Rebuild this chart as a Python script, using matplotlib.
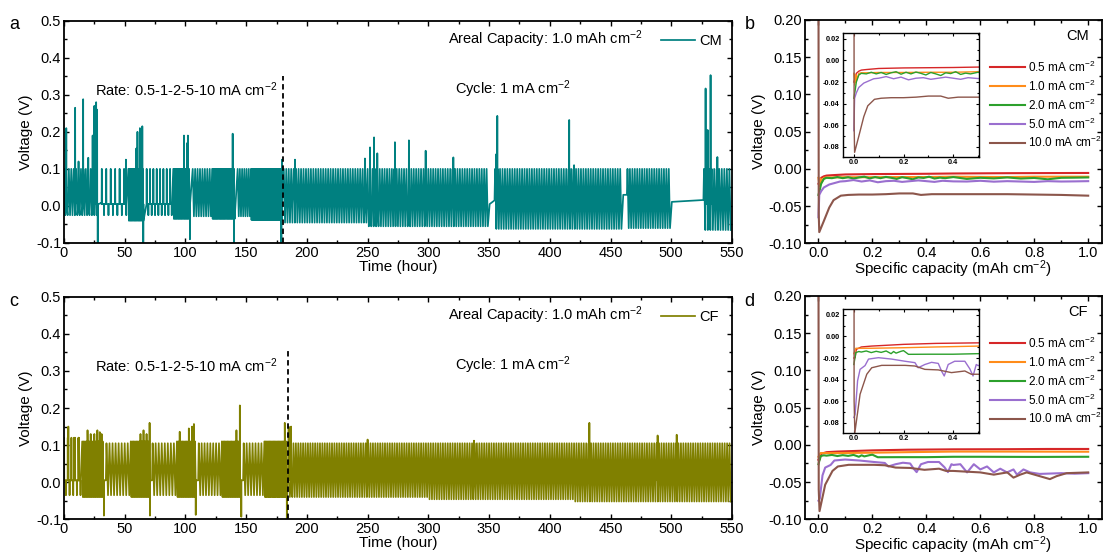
import numpy as np
import matplotlib
matplotlib.use('Agg')
import matplotlib.pyplot as plt
from matplotlib.ticker import MultipleLocator, FormatStrFormatter

plt.rcParams['font.family'] = ['Liberation Sans', 'DejaVu Sans']
plt.rcParams['mathtext.fontset'] = 'custom'
plt.rcParams['mathtext.rm'] = 'Liberation Sans'
plt.rcParams['mathtext.it'] = 'Liberation Sans:italic'
plt.rcParams['axes.unicode_minus'] = False

# --- time traces: (start h, end h, cycles, upper V, lower V) per block ---
cm_blocks = [
    (0, 28, 14, 0.10, -0.025), (31, 53, 6, 0.10, -0.025), (53, 66, 12, 0.10, -0.04),
    (68, 90, 8, 0.10, -0.025), (90, 104, 14, 0.10, -0.035),
    (106, 122, 8, 0.10, -0.028), (122, 141, 20, 0.10, -0.035),
    (143, 154, 6, 0.10, -0.028), (154, 180, 30, 0.10, -0.038),
    (181, 250, 34, 0.10, -0.045), (250, 350, 50, 0.10, -0.055),
    (355, 460, 52, 0.10, -0.062), (464, 500, 18, 0.10, -0.06),
    (527, 550, 11, 0.10, -0.065),
]
cm_flats = [(28.5, 30.5, 0.005, 0.008), (350.5, 354.5, 0.005, 0.015),
            (460.5, 463.5, 0.03, 0.03), (500.5, 526.5, 0.011, 0.016)]
cm_spikes = [(1.9, 0.21), (9.2, 0.265), (12, 0.12), (15.8, 0.288), (20, 0.13),
             (23.6, 0.19), (25, 0.27), (26.5, 0.28), (27.3, 0.26), (27.8, -0.1),
             (51, 0.125), (59.5, 0.155), (60.5, 0.2), (62.5, 0.21), (64.5, 0.215),
             (65.3, -0.1), (98.8, 0.19), (101.5, 0.17), (102, 0.19), (103.7, -0.09),
             (138.9, 0.195), (140, -0.098), (179, -0.1), (179.5, 0.125),
             (190.2, 0.125), (247.8, 0.128), (252, 0.158), (255.3, 0.185),
             (258, 0.142), (272.5, 0.172), (284, 0.177), (297.8, 0.149),
             (320.6, 0.131), (356, 0.14), (356.8, 0.243), (416, 0.232),
             (420, 0.11), (528.3, 0.317), (530, 0.205), (532.4, 0.353), (538, 0.132)]

cf_blocks = [
    (0, 15, 5, 0.12, -0.035), (15, 33, 16, 0.11, -0.04),
    (35, 55, 8, 0.105, -0.035), (55, 71, 14, 0.11, -0.04),
    (73, 93, 8, 0.105, -0.035), (93, 109, 14, 0.11, -0.04),
    (111, 130, 8, 0.105, -0.035), (130, 146, 14, 0.11, -0.04),
    (148, 165, 7, 0.105, -0.035), (165, 184, 18, 0.11, -0.04),
    (185, 300, 58, 0.105, -0.04), (300, 420, 60, 0.105, -0.046),
    (420, 550, 65, 0.105, -0.052),
]
cf_flats = [(33.5, 34.5, 0.005, 0.005), (71.5, 72.5, 0.005, 0.005),
            (109.5, 110.5, 0.005, 0.005), (146.5, 147.5, 0.005, 0.005)]
cf_spikes = [(3.6, 0.15), (8.3, 0.12), (12, 0.12), (19.4, 0.14), (22, 0.13),
             (25, 0.13), (27.5, 0.14), (29.5, 0.135), (31, 0.13), (32.9, -0.09),
             (63, 0.13), (65.5, 0.14), (68, 0.13), (70.5, 0.16), (70.8, -0.09),
             (95.3, 0.136), (102.8, 0.145), (105.5, 0.15), (107, 0.157), (108.5, -0.088),
             (142, 0.14), (144.8, 0.207), (146, -0.093),
             (181.8, 0.16), (183.5, -0.1), (185, 0.15), (187, 0.15),
             (250, 0.115), (337.6, 0.112), (432.6, 0.16), (488.8, 0.126), (504.5, 0.128)]

cm_dash = (180, 0.35)
cf_dash = (184.2, 0.353)

# --- galvanostatic profiles (capacity, voltage) ---
rates = ['0.5 mA cm$^{-2}$', '1.0 mA cm$^{-2}$', '2.0 mA cm$^{-2}$',
         '5.0 mA cm$^{-2}$', '10.0 mA cm$^{-2}$']
rate_colors = ['#d62728', '#ff8c1a', '#2ca02c', '#9a6fcf', '#8c564b']

cm_x = [
    [0.0, 0.005, 0.01, 0.02, 0.03, 0.05, 0.1, 0.2, 0.3, 0.4, 0.5, 0.6, 0.7, 0.8, 0.9, 1.0],
    [0.0, 0.004, 0.006, 0.008, 0.01, 0.012, 0.02, 0.03, 0.05, 0.1, 0.2, 0.3, 0.4, 0.5, 0.6,
     0.7, 0.8, 0.9, 1.0],
    [0.0, 0.005, 0.01, 0.02, 0.03, 0.05, 0.07, 0.09, 0.11, 0.13, 0.15, 0.17, 0.19, 0.21,
     0.23, 0.25, 0.27, 0.29, 0.31, 0.33, 0.35, 0.37, 0.39, 0.41, 0.43, 0.45, 0.47, 0.5,
     0.55, 0.6, 0.65, 0.7, 0.75, 0.8, 0.85, 0.9, 0.95, 1.0],
    [0.0, 0.003, 0.01, 0.02, 0.04, 0.06, 0.08, 0.1, 0.13, 0.16, 0.19, 0.22, 0.25, 0.28,
     0.31, 0.34, 0.37, 0.4, 0.43, 0.46, 0.5, 0.55, 0.6, 0.65, 0.7, 0.75, 0.8, 0.85, 0.9,
     0.95, 1.0],
    [0.0, 0.001, 0.003, 0.02, 0.04, 0.056, 0.083, 0.11, 0.15, 0.2, 0.25, 0.3, 0.35, 0.38,
     0.42, 0.5, 0.6, 0.7, 0.8, 0.9, 1.0],
]
cm_v = [
    [-0.02, -0.0166, -0.012, -0.01, -0.009, -0.0085, -0.0075, -0.007, -0.0068, -0.0066,
     -0.0062, -0.006, -0.0058, -0.0057, -0.0056, -0.0055],
    [-0.012, -0.023, -0.013, -0.02, -0.014, -0.018, -0.012, -0.0115, -0.0115, -0.0112,
     -0.0112, -0.011, -0.011, -0.0105, -0.0108, -0.011, -0.0105, -0.0105, -0.0105],
    [-0.035, -0.028, -0.02, -0.0135, -0.012, -0.0125, -0.011, -0.0125, -0.0112, -0.013,
     -0.0115, -0.0105, -0.0128, -0.011, -0.0125, -0.0108, -0.012, -0.0135, -0.0112,
     -0.0125, -0.014, -0.0115, -0.0122, -0.0105, -0.013, -0.0118, -0.0125, -0.011,
     -0.0135, -0.012, -0.0128, -0.0115, -0.013, -0.0122, -0.014, -0.012, -0.0118, -0.0115],
    [-0.065, -0.035, -0.03, -0.025, -0.021, -0.019, -0.017, -0.0165, -0.015, -0.017,
     -0.0155, -0.018, -0.0165, -0.016, -0.0175, -0.0165, -0.0155, -0.0165, -0.0175,
     -0.016, -0.0168, -0.017, -0.016, -0.0172, -0.0165, -0.017, -0.0175, -0.0165, -0.017,
     -0.0168, -0.0165],
    [0.3, -0.06, -0.085, -0.07, -0.052, -0.042, -0.036, -0.035, -0.0345, -0.0345, -0.034,
     -0.033, -0.033, -0.035, -0.034, -0.034, -0.034, -0.034, -0.0345, -0.035, -0.036],
]

cf_x = [
    [0.0, 0.005, 0.01, 0.03, 0.07, 0.2, 0.33, 0.5, 0.7, 0.85, 1.0],
    [0.0, 0.008, 0.02, 0.07, 0.2, 0.33, 0.5, 0.7, 1.0],
    [0.0, 0.008, 0.02, 0.03, 0.05, 0.07, 0.09, 0.11, 0.13, 0.15, 0.16, 0.17, 0.19, 0.2,
     0.22, 0.3, 0.4, 0.5, 0.6, 0.8, 1.0],
    [0.0, 0.005, 0.015, 0.025, 0.045, 0.059, 0.099, 0.152, 0.206, 0.246, 0.259, 0.286,
     0.313, 0.34, 0.353, 0.364, 0.38, 0.406, 0.447, 0.467, 0.48, 0.493, 0.5, 0.526, 0.551,
     0.576, 0.6, 0.625, 0.65, 0.674, 0.699, 0.723, 0.736, 0.76, 0.785, 0.82, 0.846, 0.9,
     0.95, 1.0],
    [0.0, 0.001, 0.004, 0.025, 0.052, 0.072, 0.112, 0.206, 0.246, 0.286, 0.34, 0.393,
     0.447, 0.473, 0.5, 0.55, 0.6, 0.65, 0.7, 0.723, 0.748, 0.772, 0.82, 0.858, 0.883,
     0.92, 1.0],
]
cf_v = [
    [-0.02, -0.0197, -0.012, -0.0098, -0.009, -0.0074, -0.0065, -0.006, -0.0058, -0.0055,
     -0.0055],
    [-0.016, -0.011, -0.011, -0.011, -0.0105, -0.0098, -0.009, -0.009, -0.0092],
    [-0.026, -0.015, -0.014, -0.0145, -0.0135, -0.015, -0.0138, -0.0148, -0.0135, -0.016,
     -0.014, -0.0155, -0.0138, -0.0132, -0.0166, -0.0165, -0.0165, -0.016, -0.016,
     -0.0162, -0.016],
    [-0.075, -0.072, -0.041, -0.0305, -0.027, -0.021, -0.0197, -0.021, -0.023, -0.0243,
     -0.029, -0.026, -0.024, -0.025, -0.032, -0.0366, -0.026, -0.023, -0.023, -0.03,
     -0.0366, -0.026, -0.027, -0.026, -0.037, -0.026, -0.033, -0.029, -0.037, -0.032,
     -0.037, -0.033, -0.04, -0.033, -0.037, -0.039, -0.0387, -0.038, -0.0387, -0.038],
    [0.3, -0.06, -0.089, -0.0535, -0.035, -0.029, -0.0268, -0.0268, -0.0274, -0.0305,
     -0.031, -0.0335, -0.032, -0.035, -0.035, -0.036, -0.037, -0.04, -0.037, -0.044,
     -0.04, -0.037, -0.042, -0.046, -0.042, -0.038, -0.037],
]


def build_trace(blocks, flats, spikes, base=0.005):
    # sparse blocks: short spikes off a flat baseline; dense blocks: back-to-back swings
    t, v = [], []
    for t0, t1, n, hi, lo in blocks:
        p = (t1 - t0) / n
        for k in range(n):
            tk = t0 + k * p
            if p > 2.5:
                t += [tk, tk + 0.04 * p, tk + 0.08 * p, tk + 0.5 * p, tk + 0.54 * p,
                      tk + 0.58 * p]
                v += [base, hi, base, base, lo, base]
            else:
                t += [tk, tk + 0.5 * p]
                v += [hi, lo]
    for t0, t1, v0, v1 in flats:
        t += [t0, t1]
        v += [v0, v1]
    for ts, vs in spikes:
        t += [ts - 0.1, ts, ts + 0.1]
        v += [base, vs, base]
    order = np.argsort(t, kind='stable')
    return np.array(t)[order], np.array(v)[order]


def style_ticks(ax, size=10.5, length=3.5):
    ax.tick_params(which='both', direction='in', top=True, right=True, labelsize=size,
                   width=1.0, pad=2)
    ax.tick_params(which='major', length=length)
    ax.tick_params(which='minor', length=length * 0.6)
    for s in ax.spines.values():
        s.set_linewidth(1.3)


def time_panel(ax, blocks, flats, spikes, color, name, dash):
    t, v = build_trace(blocks, flats, spikes)
    ax.plot(t, v, color=color, lw=1.25, label=name)
    ax.plot([dash[0], dash[0]], [-0.1, dash[1]], color='black', ls=(0, (3, 2)), lw=1.3)
    ax.set_xlim(0, 550)
    ax.set_ylim(-0.1, 0.5)
    ax.xaxis.set_major_locator(MultipleLocator(50))
    ax.xaxis.set_minor_locator(MultipleLocator(25))
    ax.yaxis.set_major_locator(MultipleLocator(0.1))
    ax.yaxis.set_minor_locator(MultipleLocator(0.05))
    style_ticks(ax)
    ax.set_xlabel('Time (hour)', fontsize=11, labelpad=0)
    ax.set_ylabel('Voltage (V)', fontsize=11, labelpad=2)
    ax.text(25.5, 0.315, 'Rate: 0.5-1-2-5-10 mA cm$^{-2}$', fontsize=10.5, va='center')
    ax.text(322, 0.315, 'Cycle: 1 mA cm$^{-2}$', fontsize=10.5, va='center')
    ax.text(316, 0.45, 'Areal Capacity: 1.0 mAh cm$^{-2}$', fontsize=10.5, va='center')
    ax.legend(loc='center left', bbox_to_anchor=(0.883, 0.91), frameon=False,
              fontsize=10.5, handlelength=2.3, handletextpad=0.3, borderpad=0)


def capacity_panel(fig, rect, inset_rect, xs, vs, name):
    ax = fig.add_axes(rect)
    for x, v, c, lab in zip(xs, vs, rate_colors, rates):
        ax.plot(x, v, color=c, lw=1.5, label=lab)
    ax.set_xlim(-0.05, 1.05)
    ax.set_ylim(-0.1, 0.2)
    ax.xaxis.set_major_locator(MultipleLocator(0.2))
    ax.xaxis.set_minor_locator(MultipleLocator(0.1))
    ax.yaxis.set_major_locator(MultipleLocator(0.05))
    ax.yaxis.set_minor_locator(MultipleLocator(0.025))
    ax.yaxis.set_major_formatter(FormatStrFormatter('%.2f'))
    ax.xaxis.set_major_formatter(FormatStrFormatter('%.1f'))
    style_ticks(ax)
    ax.set_xlabel('Specific capacity (mAh cm$^{-2}$)', fontsize=11, labelpad=-1)
    ax.set_ylabel('Voltage (V)', fontsize=11, labelpad=2)
    ax.legend(loc='upper left', bbox_to_anchor=(0.605, 0.85), frameon=False, fontsize=8.5,
              handlelength=2.9, handletextpad=0.25, labelspacing=0.32, borderpad=0)
    ax.text(0.92, 0.93, name, transform=ax.transAxes, fontsize=10.5, ha='center', va='center')

    ins = fig.add_axes(inset_rect)
    for x, v, c in zip(xs, vs, rate_colors):
        ins.plot(x, v, color=c, lw=1.0)
    ins.set_xlim(-0.045, 0.505)
    ins.set_ylim(-0.089, 0.025)
    ins.xaxis.set_major_locator(MultipleLocator(0.2))
    ins.xaxis.set_minor_locator(MultipleLocator(0.1))
    ins.yaxis.set_major_locator(MultipleLocator(0.02))
    ins.yaxis.set_minor_locator(MultipleLocator(0.01))
    ins.yaxis.set_major_formatter(FormatStrFormatter('%.2f'))
    ins.xaxis.set_major_formatter(FormatStrFormatter('%.1f'))
    ins.tick_params(which='both', direction='in', top=True, right=True, labelsize=5.3,
                    width=0.8, pad=2)
    ins.tick_params(which='major', length=2.5)
    ins.tick_params(which='minor', length=1.5)
    for lab in ins.get_xticklabels() + ins.get_yticklabels():
        lab.set_fontweight('bold')
    for s in ins.spines.values():
        s.set_linewidth(1.0)
    return ax


fig = plt.figure(figsize=(11.03, 5.55), dpi=100)

ax_a = fig.add_axes([0.058, 0.5622, 0.6056, 0.4005])
time_panel(ax_a, cm_blocks, cm_flats, cm_spikes, '#008080', 'CM', cm_dash)
ax_c = fig.add_axes([0.058, 0.0643, 0.6056, 0.401])
time_panel(ax_c, cf_blocks, cf_flats, cf_spikes, '#808000', 'CF', cf_dash)

capacity_panel(fig, [0.7298, 0.5616, 0.269, 0.4024], [0.764, 0.7177, 0.1238, 0.2223],
               cm_x, cm_v, 'CM')
capacity_panel(fig, [0.7298, 0.0643, 0.269, 0.4024], [0.764, 0.2204, 0.1238, 0.2223],
               cf_x, cf_v, 'CF')

for lab, x, y in [('a', 0.008, 0.955), ('b', 0.675, 0.955), ('c', 0.008, 0.457),
                  ('d', 0.675, 0.457)]:
    fig.text(x, y, lab, fontsize=13, va='center')

fig.savefig('out.png', dpi=100)
